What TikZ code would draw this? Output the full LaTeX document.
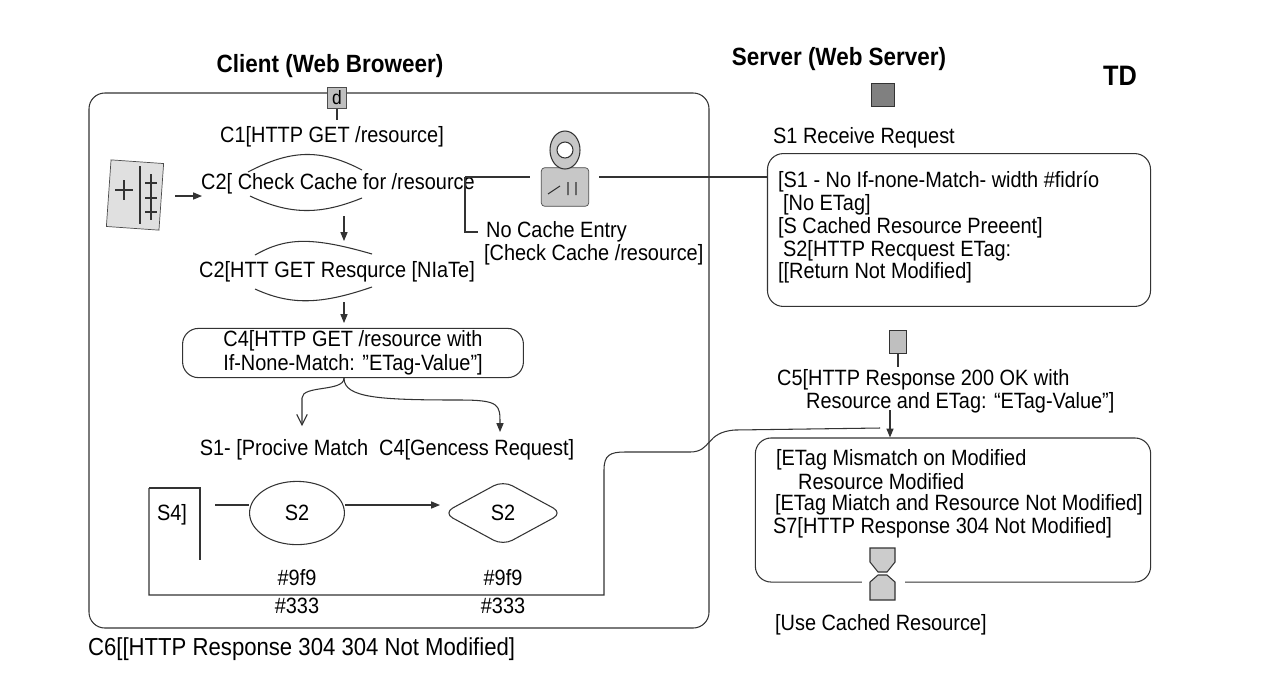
\documentclass[tikz,border=0pt]{standalone}
\usepackage{fontspec}
\setmainfont[FakeStretch=0.9]{Liberation Sans}
\usetikzlibrary{arrows.meta,shapes.geometric}
\begin{document}
\begin{tikzpicture}[x=0.02cm,y=-0.02cm,
  ln/.style={draw=black!80,line width=0.6pt},
  arr/.style={ln,-{Triangle[length=5pt,width=4pt]}},
  oarr/.style={ln,-{Straight Barb[length=6pt,width=6pt]}},
  t/.style={font=\fontsize{12.6}{13.5}\selectfont,inner sep=1pt},
  tl/.style={t,anchor=west},
  ttl/.style={font=\bfseries\fontsize{14.2}{16}\selectfont},
  box/.style={ln,rounded corners=9pt}]
\useasboundingbox (0,0) rectangle (1280,698);
\fill[white] (0,0) rectangle (1280,698);
% titles
\node[ttl] (ct) at (330,66) {Client (Web Broweer)};
\node[ttl] (st) at (839,59) {Server (Web Server)};
\node[ttl,font=\bfseries\fontsize{16}{18}\selectfont] (td) at (1120,76) {TD};
% client frame
\draw[box] (89,93) rectangle (709,628);
% top icon
\node[draw=black!70,fill=black!25,minimum width=11pt,minimum height=12pt,inner sep=0pt,font=\fontsize{11}{11}\selectfont] (ic) at (337,98) {d};
\coordinate (icb) at (337,120);
\draw[ln] (ic.south) -- (icb);
\node[t] (c1) at (332,137) {C1[HTTP GET /resource]};
% book icon
\node[draw=black!70,fill=black!12,minimum width=30pt,minimum height=38pt,inner sep=0pt,rotate=-4] (book) at (135,195) {};
\draw[ln] (115,190) -- (133,190) (124,180) -- (124,200) (140,166) -- (140,224) (145,183)--(157,183) (145,198)--(157,198) (145,212)--(157,212) (151,174)--(151,220);
% C2 lens 1
\node[t] (c2) at (338,184) {C2[ Check Cache for /resource};
\draw[ln] (248,172) .. controls (290,150) and (320,148) .. (362,170);
\draw[ln] (250,196) .. controls (290,215) and (320,215) .. (362,198);
\coordinate (ba) at (175,196);
\coordinate (bb) at (202,196);
\draw[arr] (ba) -- (bb);
% lock icon
\node[draw=black!70,fill=black!22,minimum width=27pt,minimum height=22pt,inner sep=0pt,rounded corners=2pt] (lock) at (565,187) {};
\draw[ln,fill=black!22] (565,150) ellipse (15 and 19);
\fill[white] (565,150) circle (8);
\draw[ln] (565,150) circle (8);
\draw[ln] (548,194) -- (560,186) (568,182) -- (568,195) (576,182)--(576,195);
\coordinate (nb) at (465,177);
\draw[ln] (nb) -- (530,177);
\draw[ln] (nb) -- (465,232) -- (478,232);
\node[tl] (nce) at (484,232) {No Cache Entry};
\node[tl] (ncc) at (482,255) {[Check Cache /resource]};
% lens 2
\node[t] (c3) at (337,272) {C2[HTT GET Resqurce [NIaTe]};
\draw[ln] (255,255) .. controls (285,238) and (310,236) .. (372,254);
\draw[ln] (255,289) .. controls (290,305) and (320,305) .. (372,287);
\draw[arr] (344,216) -- (344,241);
\draw[arr] (344,302) -- (344,323);
% C4 box
\node[box,fill=white,minimum width=194pt,align=center,t,minimum height=28pt] (c4) at (353,353) {C4[HTTP GET /resource with\\If-None-Match: "ETag-Value"]};
\coordinate (sp) at (344,377);
\draw[oarr] (c4.south -| sp) .. controls (344,392) and (302,385) .. (302,398) -- (302,426);
\draw[arr] (c4.south -| sp) .. controls (344,398) and (380,400) .. (460,400) .. controls (500,400) and (500,405) .. (500,432);
\node[t] (s1m) at (387,450) {S1- [Procive Match\ \ C4[Gencess Request]};
% bottom row
\node[t] (s4) at (172,515) {S4]};
\draw[ln] (149,488) -- (200,488) -- (200,560);
\coordinate (rt) at (604,470);
\draw[ln] (149,488) -- (149,595) -- (604,595) -- (rt) .. controls (604,455) and (610,452) .. (625,452) -- (690,452) .. controls (712,452) and (705,432) .. (735,430) -- (880,428);
\node[ln,ellipse,t,inner sep=0pt,minimum width=54pt,minimum height=36pt] (e2) at (297,513) {S2};
\node[ln,diamond,aspect=1.9,t,rounded corners=6pt,minimum width=68pt,minimum height=37pt] (d2) at (503,513) {S2};
\draw[ln] (215,505) -- (e2.west |- 0,505);
\draw[arr] (345,505) -- (440,505);
\node[t] (n1) at (297,578) {\#9f9};
\node[t] (n2) at (503,578) {\#9f9};
\node[t] (n3) at (297,606) {\#333};
\node[t] (n4) at (503,606) {\#333};
\node[tl,font=\fontsize{14}{15}\selectfont] (c6) at (86,649) {C6[[HTTP Response 304 304 Not Modified]};
% server
\node[draw=black!80,fill=black!50,minimum width=13pt,minimum height=13pt,inner sep=0pt] (sq) at (883,95) {};
\node[t] (s1r) at (864,138) {S1 Receive Request};
\node[box,minimum width=218pt,minimum height=87pt] (sb1) at (959,230) {};
\node[tl] at (776,182) {[S1 - No If-none-Match- width \#fidrío};
\node[tl] at (781,205) {[No ETag]};
\node[tl] at (776,228) {[S Cached Resource Preeent]};
\node[tl] at (781,251) {S2[HTTP Recquest ETag:};
\node[tl] at (776,273) {[[Return Not Modified]};
\draw[ln] (lock.east |- 0,177) ++(10,0) -- (sb1.west |- 0,177);
\node[draw=black!80,fill=black!25,minimum width=10pt,minimum height=13pt,inner sep=0pt] (sq2) at (898,342) {};
\draw[ln] (sq2.south) -- (898,367);
\node[tl] (c5) at (775,380) {C5[HTTP Response 200 OK with};
\node[tl] (c5b) at (804,403) {Resource and ETag: “ETag-Value”]};
\node[box,minimum width=225pt,minimum height=82pt] (sb2) at (953,510) {};
\draw[arr] (890,410) -- (sb2.north -| 890,0);
\node[tl] at (774,460) {[ETag Mismatch on Modified};
\node[tl] at (796,482) {Resource Modified};
\node[tl] at (773,505) {[ETag Miatch and Resource Not Modified]};
\node[tl] at (771,528) {S7[HTTP Response 304 Not Modified]};
\fill[white] (862,578) rectangle (905,590);
\draw[ln,fill=black!20] (870,548) -- (895,548) -- (895,562) -- (887,572) -- (878,572) -- (870,562) -- cycle;
\draw[ln,fill=black!20] (878,575) -- (887,575) -- (895,582) -- (895,600) -- (870,600) -- (870,582) -- cycle;
\node[tl] (ucr) at (773,625) {[Use Cached Resource]};
\end{tikzpicture}
\end{document}
